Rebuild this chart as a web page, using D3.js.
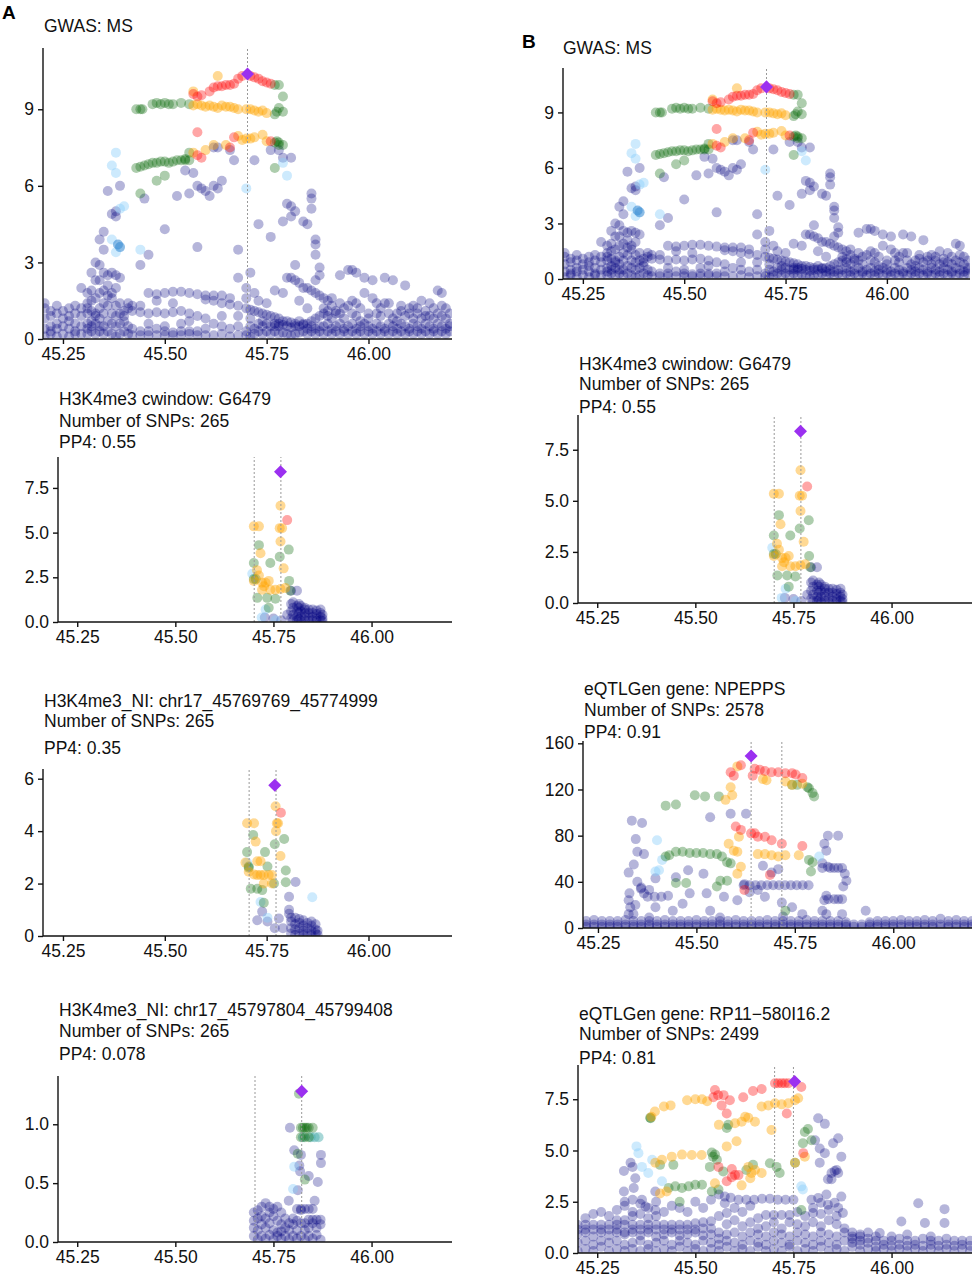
<!DOCTYPE html>
<html><head><meta charset="utf-8">
<script src="https://cdn.jsdelivr.net/npm/d3@7"></script>
<style>body{margin:0;background:#fff}svg{display:block}text{font-family:"Liberation Sans",Arial,sans-serif}</style>
</head><body>
<script>
// ---------- DATA (x in Mb : -log10 p values) ----------
const xTicks = [45.25, 45.5, 45.75, 46.0];

const gwasNavy = `45.205:0.1,0.4,0.8,1.2,1.4 45.22:0.2,0.5,0.9,1.1,0.3 45.235:0.1,0.6,1.0,0.4,1.3 45.25:0.2,0.5,0.8,1.1
45.265:0.1,0.4,0.9,1.2,0.7 45.28:0.3,0.6,1.0,1.3,0.2 45.295:0.2,0.5,0.9,1.2,2.0 45.31:0.2,0.6,1.0,1.4,1.8,1.2,0.4
45.32:0.3,0.7,1.1,1.5,1.9,2.6,0.5 45.33:0.2,0.6,1.0,1.6,2.3,3.0,0.9 45.34:0.3,0.8,1.2,1.8,2.3,2.9,3.9,0.5
45.35:0.2,0.5,1.0,1.4,1.9,2.6,3.5,4.2 45.36:0.3,0.7,1.3,1.7,2.1,2.5,5.8 45.37:0.2,0.6,1.0,1.8,1.6,2.6,4.9
45.38:0.1,0.5,0.9,1.3,2.0,2.5,5.0,4.8 45.39:0.2,0.6,1.0,1.4,2.4,6.0 45.40:0.3,0.7,1.1,0.9 45.41:0.2,0.5,1.2,1.4
45.42:0.15,0.4,1.1,1.3 45.44:0.15,0.3,1.05,1.3,2.9 45.45:5.5 45.46:0.15,0.3,1.0,1.8,3.3,0.6 45.48:0.15,0.4,1.05,1.75,1.5
45.50:0.15,0.3,1.0,1.8,4.3,0.5 45.52:0.15,0.25,1.05,1.85,1.4 45.53:5.6 45.54:0.15,0.3,1.1,1.85,0.6 45.55:6.6
45.56:0.2,0.3,1.0,1.8,5.7,0.7 45.57:6.5 45.58:0.15,0.3,1.75,3.6,0.9,6.0 45.59:5.9 45.60:0.15,0.4,1.55,1.7,0.8,5.8 45.61:5.6
45.62:0.15,0.6,1.5,1.7,6.0,7.5 45.63:5.9,7.5 45.64:0.2,0.5,1.4,0.9,1.7,6.2 45.66:0.1,0.4,1.35,1.6,7.4 45.67:7.0
45.68:0.15,0.5,1.3,2.4,3.5,0.9 45.70:0.15,0.3,1.2,2.0,1.6 45.71:0.1,0.5,1.15,2.6,0.8 45.72:0.2,0.4,1.1,1.8,7.0
45.73:0.3,0.6,1.05,4.5,1.5 45.74:0.2,0.5,1.0,0.7 45.75:0.3,0.6,0.95,1.4 45.76:0.2,0.5,0.9,4.0,7.4 45.77:0.3,0.6,0.85,1.9,0.5
45.78:0.2,0.5,0.8,0.6,7.4 45.79:0.25,0.55,0.7,1.8,4.6,7.1 45.80:0.2,0.5,0.7,5.3,2.4 45.81:0.15,0.45,0.65,2.4,4.8,5.2,7.1
45.82:0.2,0.5,0.6,2.9,2.3,5.0 45.83:0.25,0.5,0.7,2.2,1.5 45.84:0.3,0.55,0.6,2.0,4.6 45.85:0.2,0.4,0.6,2.0,4.5,1.2
45.86:0.3,0.5,0.7,1.9,5.7,5.5,5.1 45.87:0.2,0.4,0.8,1.8,3.9,3.7,3.3,2.3 45.88:0.3,0.5,0.9,1.7,2.8,2.5 45.89:0.2,0.5,1.0,1.6,1.2
45.90:0.3,0.6,1.1,1.5,0.9 45.91:0.2,0.4,0.8,1.3,1.6 45.92:0.3,0.5,1.1,1.0 45.93:0.2,0.6,1.0,2.5,1.4 45.94:0.3,0.4,0.8,1.2
45.95:0.2,0.5,1.3,2.7 45.96:0.3,0.6,1.5,2.7,1.0 45.97:0.2,0.4,0.9,2.6,1.4 45.98:0.3,0.5,1.2,0.7 45.99:0.2,0.6,1.8,2.4
46.00:0.3,0.5,1.0,0.8 46.01:0.2,0.4,1.6,2.3 46.02:0.3,0.6,1.0,1.4 46.03:0.2,0.5,0.9,1.2 46.04:0.3,0.4,1.4,2.4
46.05:0.2,0.6,1.0,1.4 46.06:0.3,0.5,0.8,2.3 46.07:0.2,0.4,1.0,0.7 46.08:0.3,0.6,1.1,1.3 46.09:0.2,0.5,0.9,2.1
46.10:0.3,0.4,1.2,1.0 46.11:0.2,0.6,0.8,1.3 46.12:0.3,0.5,1.0,1.2 46.13:0.2,0.4,1.5,0.8 46.14:0.3,0.6,0.9,1.1
46.15:0.2,0.5,0.9,1.4 46.16:0.3,0.4,0.8,1.2 46.17:0.2,0.6,1.0,1.9 46.18:0.3,0.5,0.9,1.8,1.3 46.19:0.2,0.4,0.8,1.2 46.20:0.3,0.6,1.0,0.5`;
const gwasGreen = `45.43:9.0,6.7 45.44:9.0,6.75,5.7 45.445:9.0 45.45:6.8 45.46:6.85 45.47:9.2,6.9 45.48:9.25,6.9,6.2 45.49:9.2,6.95
45.50:9.25,6.95,6.4 45.51:9.2,6.9 45.52:9.2,6.95 45.53:7.0 45.54:9.25,7.0 45.55:7.0,7.05 45.56:9.2,7.0,7.3
45.77:9.95,8.8,7.7,6.7 45.775:7.75,8.9 45.78:9.05,7.7,7.6,9.95 45.79:9.5,8.9,7.6`;
const gwasOrange = `45.57:9.15,9.7,7.3 45.58:9.2 45.59:9.15 45.60:9.1,7.4 45.61:9.15 45.62:9.1,7.6 45.63:9.05,10.3 45.64:9.15
45.65:9.1,7.6 45.66:9.1 45.67:9.05 45.68:9.0,7.95 45.69:7.8 45.70:9.0,7.85 45.71:9.0,7.85 45.72:8.95,7.9 45.73:8.9
45.74:8.95,8.0 45.75:8.85,7.75`;
const gwasRed = `45.57:9.6 45.58:9.5,8.1,7.2 45.59:9.55,7.1 45.61:9.7 45.62:9.85 45.63:9.9 45.64:9.9 45.65:9.95 45.66:9.95,7.5
45.67:10.0,7.9 45.68:10.2 45.69:10.3 45.71:10.3 45.72:10.25 45.73:10.2 45.74:10.1 45.75:10.05 45.76:10.0,7.75`;
const gwasLight = `45.37:6.8,3.9 45.38:7.3,6.5,3.4 45.39:5.1 45.40:5.2 45.44:3.5 45.79:6.9 45.80:6.4 45.70:5.9`;
const gwasBlue = `45.39:3.6 45.385:3.7`;
const gwasLead = [45.703, 10.38];

const h3aNavy = `45.795:0.2,0.6,1.0,1.75 45.80:0.1,0.4,0.8,1.1 45.81:0.1,0.3,0.6,0.9,1.75 45.815:0.15,0.5,0.8,1.0
45.82:0.05,0.3,0.6,0.9 45.83:0.1,0.3,0.5,0.7,0.8 45.84:0.05,0.25,0.5,0.7 45.85:0.1,0.3,0.5,0.7 45.86:0.05,0.2,0.45,0.65
45.87:0.1,0.3,0.5,0.7 45.875:0.05,0.2,0.4 45.728:0.25 45.75:0.2 45.77:0.1 45.785:0.4`;
const h3aGreen = `45.713:4.3 45.70:3.3,2.4 45.742:3.3 45.766:3.65 45.789:4.05 45.79:2.3 45.705:2.4 45.709:1.35 45.734:1.35
45.755:1.3 45.738:0.8 45.793:1.75`;
const h3aOrange = `45.70:5.35,2.3 45.713:5.35,2.6 45.768:6.5,4.5,1.85 45.766:5.25 45.772:5.25 45.776:3.0 45.717:3.85 45.708:2.9
45.721:2.2,1.8 45.73:2.2 45.738:2.3 45.726:2.0 45.742:1.8 45.755:1.8 45.78:1.9`;
const h3aRed = `45.785:5.7`;
const h3aLight = `45.696:2.7 45.73:0.7 45.755:0.1 45.72:0.25`;
const h3aLead = [45.768, 8.4];

const h3bNavy = `45.821:2.06 45.805:1.5,1.0,0.85 45.739:0.93 45.727:0.6 45.752:0.55 45.78:0.67 45.77:0.3 45.79:0.3
45.81:0.1,0.3,0.55,0.7 45.82:0.05,0.25,0.45,0.7 45.83:0.1,0.3,0.5,0.65 45.84:0.05,0.2,0.4,0.6 45.85:0.1,0.3,0.5
45.86:0.05,0.2,0.4,0.55 45.87:0.1,0.25,0.45 45.875:0.05,0.2`;
const h3bGreen = `45.717:3.85 45.702:3.2 45.746:3.2 45.77:3.5 45.793:3.7 45.706:2.65,2.6 45.752:2.65 45.797:2.5,2.05
45.711:1.8 45.727:1.8 45.739:1.75 45.743:1.27 45.768:2.0`;
const h3bOrange = `45.702:4.3 45.719:4.3,2.35 45.772:4.95 45.775:4.3 45.778:4.3 45.773:4.0 45.784:3.05 45.723:3.6
45.727:2.85,2.33 45.735:2.85,2.33 45.743:2.33,2.0 45.755:2.33 45.763:2.33,2.0 45.706:2.45 45.698:2.8`;
const h3bRed = `45.785:4.7`;
const h3bLight = `45.702:2.8 45.735:1.3 45.862:1.48 45.752:0.7`;
const h3bLead = [45.770, 5.75];

const h3cNavy = `45.792:0.97 45.803:0.78 45.82:0.74 45.871:0.74,0.67 45.816:0.65 45.818:0.6 45.84:0.56 45.863:0.51
45.812:0.44 45.789:0.35 45.855:0.35 45.70:0.05,0.12,0.18,0.25 45.71:0.02,0.1,0.2,0.27 45.72:0.05,0.15,0.22,0.3
45.73:0.03,0.12,0.2,0.33 45.74:0.06,0.16,0.25,0.3 45.75:0.02,0.1,0.22,0.28 45.76:0.05,0.08,0.18,0.3 45.77:0.03,0.09,0.15,0.25
45.78:0.05,0.12,0.2 45.79:0.02,0.1,0.16 45.80:0.05,0.15,0.2 45.81:0.03,0.1,0.18,0.28 45.82:0.05,0.16,0.28,0.27
45.83:0.02,0.16,0.28,0.1 45.84:0.05,0.19,0.28,0.12 45.85:0.03,0.19,0.28,0.16 45.86:0.06,0.19,0.12 45.87:0.02,0.19,0.15`;
const h3cGreen = `45.82:0.97,0.89 45.825:0.97 45.83:0.97,0.89 45.835:0.97 45.84:0.97,0.89 45.85:0.97 45.812:0.75 45.83:0.53 45.815:1.26`;
const h3cTeal = `45.825:0.89 45.845:0.89 45.855:0.89 45.865:0.89`;
const h3cLight = `45.803:0.64 45.80:0.45`;
const h3cLead = [45.822, 1.28];

const npNavy = `45.336:93 45.362:91 45.346:77 45.35:66,40 45.367:64,30 45.341:55 45.328:48,24,12 45.359:34 45.376:27 45.394:27
45.411:27 45.428:28 45.332:18 45.34:12 45.36:35 45.38:33 45.33:30 45.345:20
45.834:80,53 45.86:80 45.825:73,24 45.83:67,28,12 45.82:56,52,15 45.84:52 45.85:52,25 45.86:52,25 45.87:52,25,12 45.835:25
45.877:47 45.881:41 45.873:36 45.93:15
45.535:96,15 45.587:99 45.626:99 45.669:54 45.691:48 45.708:51 45.622:38 45.635:31 45.518:47 45.479:50 45.448:44 45.396:43
45.483:30 45.526:30 45.57:27 45.604:24 45.656:33 45.674:27 45.717:22 45.743:18 45.769:12 45.44:15 45.396:18 45.465:21
45.62:37 45.635:37 45.65:37 45.665:37 45.68:37 45.695:37 45.71:37 45.725:37 45.74:37 45.755:37 45.77:37 45.785:37
45.20:1,3,6 45.22:1,3,6 45.24:1,3,7 45.26:1,3,6 45.28:1,3,6 45.30:1,3,6 45.32:1,3,7 45.34:1,3,6 45.36:1,3,6 45.38:1,3,6,9
45.40:1,3,6 45.42:1,3,7 45.44:1,3,6 45.46:1,3,6 45.48:1,3,6 45.50:1,3,7 45.52:1,3,6 45.54:1,3,6 45.56:1,3,6,9 45.58:1,3,6
45.60:1,3,7 45.62:1,3,6 45.64:1,3,6 45.66:1,3,6 45.68:1,3,7 45.70:1,3,6 45.72:1,3,6,10 45.74:1,3,6 45.76:1,3,6 45.78:1,3,7
45.80:1,3,6 45.82:1,3,6 45.84:1,3,6 45.86:1,3,6 45.88:1,3,5 45.90:1,3 45.92:1,3 45.94:1,3,5 45.96:1,3,6 45.98:1,3,6
46.00:1,3,6 46.02:1,3,7 46.04:1,3,6 46.06:1,3,6 46.08:1,3,7 46.10:1,3,6 46.12:1,3,8 46.14:1,3,6 46.16:1,3,7 46.18:1,3,6 46.20:1,3,6`;
const npGreen = `45.422:106,62 45.448:107,66,39 45.496:115 45.522:114 45.557:114 45.743:124 45.756:124 45.786:121,59 45.795:117,57
45.799:114 45.782:122 45.431:63 45.465:66 45.483:65 45.5:65 45.517:65 45.535:64 45.552:64,36 45.565:62 45.578:57,41
45.587:56 45.791:49 45.474:39 45.561:41 45.726:15`;
const npOrange = `45.604:140,66,47 45.587:122 45.591:115 45.574:111 45.608:79 45.582:73 45.595:67 45.656:64 45.674:64 45.691:63
45.708:62 45.726:63,127 45.76:63 45.678:128 45.669:129 45.743:124 45.769:125 45.613:53`;
const npRed = `45.595:132 45.587:135 45.613:141,85 45.648:138,82 45.661:137 45.674:136,79 45.691:135,76 45.708:135 45.726:134
45.743:134 45.752:133 45.769:130,71 45.643:132 45.6:88 45.639:82 45.656:79 45.717:73 45.687:46 45.622:33`;
const npLight = `45.4:76 45.396:49 45.405:50 45.413:59 45.812:62`;
const npLead = [45.639, 149];

const rpNavy = `45.318:4.0,3.0 45.335:4.4 45.34:4.2 45.347:3.65 45.343:3.17 45.398:3.0,2.1 45.364:2.6 45.373:2.27
45.813:6.57,2.68 45.83:6.3,4.87 45.805:5.5 45.817:5.1,4.4 45.851:5.35 45.864:5.6,3.9,2.2 45.872:4.7,2.75 45.847:3.9,3.6
45.86:4.05 45.855:4.0,2.45 45.838:3.6,2.35 45.834:2.85 45.82:2.45 45.876:1.95 45.8:1.95 45.796:2.6
45.56:2.85 45.575:2.75,2.43 45.59:2.7 45.61:2.6 45.63:2.6 45.65:2.6 45.67:2.65 45.69:2.65 45.71:2.6 45.73:2.6 45.75:2.6
46.068:2.43 46.135:2.14,1.46 46.085:1.46 46.025:1.54 45.97:0.97
45.20:0.1,0.5,0.9,1.38,1.15 45.22:0.2,0.6,1.0,1.38,1.15,1.7 45.24:0.1,0.4,0.8,1.38,1.15,1.9 45.26:0.3,0.6,1.0,1.38,1.15,2.0
45.28:0.1,0.5,0.85,1.38,1.15,1.8 45.30:0.2,0.6,1.0,1.38,1.15,1.6,2.1 45.32:0.1,0.4,0.9,1.38,1.6,2.3,2.5,1.0
45.34:0.2,0.5,1.0,1.38,1.15,2.0,2.6,1.8 45.36:0.1,0.6,0.85,1.38,1.15,2.4,1.9 45.38:0.2,0.4,1.0,1.38,1.15,2.2,1.7
45.40:0.1,0.5,0.8,1.38,1.15,2.5,1.8 45.42:0.2,0.6,0.9,1.38,1.15,2.0 45.44:0.1,0.4,1.0,1.38,1.15,2.3
45.46:0.3,0.6,0.85,1.38,1.15,2.2 45.48:0.1,0.5,0.9,1.38,1.15,2.0 45.50:0.2,0.4,1.0,1.45,1.15,2.5 45.52:0.1,0.6,0.85,1.5,1.2,2.2
45.54:0.2,0.5,0.9,1.55,1.2,2.6 45.56:0.1,0.4,1.0,1.8,0.7 45.58:0.3,0.6,0.9,1.95,1.4 45.60:0.1,0.5,1.0,1.6,2.2
45.62:0.2,0.4,0.8,1.3,2.0 45.64:0.1,0.6,1.0,1.5,2.3 45.66:0.3,0.5,0.9,1.2,1.7 45.68:0.1,0.4,0.8,1.85,1.3
45.70:0.2,0.6,1.0,1.85,1.5 45.72:0.1,0.5,0.9,1.85,1.2 45.74:0.3,0.4,0.8,1.85,1.5 45.76:0.1,0.6,1.0,1.4,2.0
45.78:0.2,0.5,0.9,1.3,1.8 45.80:0.1,0.4,0.8,1.5,2.2 45.82:0.3,0.6,1.0,1.3,1.9 45.84:0.1,0.5,0.9,1.6,2.1
45.86:0.2,0.4,0.8,1.4,1.8 45.88:0.1,0.6,1.0,1.2 45.90:0.3,0.5,0.8,1.0,0.7 45.92:0.1,0.4,0.6,0.9,0.8 45.94:0.2,0.5,0.7,1.0
45.96:0.1,0.3,0.6,0.8 45.98:0.2,0.4,0.6 46.00:0.1,0.35,0.6,0.8 46.02:0.2,0.4,0.7 46.04:0.1,0.35,0.6,0.9 46.06:0.2,0.4,0.6
46.08:0.1,0.35,0.7 46.10:0.2,0.4,0.6,0.8 46.12:0.1,0.35,0.6 46.14:0.2,0.4,0.7 46.16:0.1,0.35,0.6 46.18:0.2,0.4,0.6 46.20:0.1,0.35,0.6`;
const rpGreen = `45.386:6.57 45.385:6.6 45.584:6.25 45.58:6.1 45.779:5.9 45.787:6.05 45.774:5.35 45.796:5.5 45.55:4.8 45.542:4.9
45.555:4.55 45.545:4.7 45.41:4.3 45.444:4.3 45.537:4.2 45.571:3.98 45.63:4.05 45.647:4.3 45.69:4.38 45.707:4.2 45.715:3.9
45.754:4.4 45.432:3.17 45.449:3.25 45.466:3.17 45.483:3.25 45.5:3.33 45.517:3.33 45.542:3.0 45.559:3.1 45.77:2.1 45.46:2.5`;
const rpOrange = `45.388:6.65 45.397:6.9 45.42:7.15 45.437:7.2 45.479:7.45 45.5:7.5 45.517:7.5 45.53:7.4 45.669:7.15 45.686:7.2
45.703:7.3 45.72:7.25 45.737:7.3 45.754:7.45 45.762:7.55 45.627:6.65 45.635:6.6,4.2 45.618:6.4,3.3 45.652:6.4,4.05 45.601:6.33
45.56:6.25 45.694:6.0 45.605:5.45 45.398:4.4 45.415:4.55 45.44:4.7 45.466:4.8 45.491:4.78 45.516:4.78 45.58:5.2 45.669:3.9
45.643:3.9 45.427:3.0 45.41:2.9 45.64:3.65 45.55:3.4 45.754:4.4 45.779:4.7`;
const rpRed = `45.703:8.28 45.711:8.28 45.72:8.28 45.728:8.28 45.737:8.28 45.77:8.1 45.55:7.95 45.558:7.7 45.546:7.6 45.572:7.7
45.567:7.2 45.588:7.45 45.622:7.6 45.647:7.9 45.669:8.0 45.58:6.8 45.733:6.8 45.775:4.87 45.559:4.2 45.593:4.1,3.7
45.601:3.8 45.61:3.8 45.58:3.5`;
const rpLight = `45.35:5.2 45.355:4.87 45.364:4.2 45.39:4.55 45.415:3.5 45.774:3.1 45.77:3.25 45.38:3.9`;
const rpLead = [45.753, 8.36];

// ---------- RENDER ----------
function parse(s){ if(!s) return []; return s.trim().split(/\s+/).flatMap(t=>{const [x,ys]=t.split(':');return ys.split(',').map(y=>[+x,+y]);}); }
const COL = {navy:['#000080',0.29], light:['#87cefa',0.42], blue:['#3d8fd6',0.6], teal:['#4fb0b0',0.5], green:['#006400',0.32], orange:['#ffa500',0.42], red:['#ff0000',0.35]};

const datasets = {
  gwas:{navy:gwasNavy,light:gwasLight,blue:gwasBlue,green:gwasGreen,orange:gwasOrange,red:gwasRed,lead:gwasLead},
  h3a:{navy:h3aNavy,light:h3aLight,green:h3aGreen,orange:h3aOrange,red:h3aRed,lead:h3aLead},
  h3b:{navy:h3bNavy,light:h3bLight,green:h3bGreen,orange:h3bOrange,red:h3bRed,lead:h3bLead},
  h3c:{navy:h3cNavy,light:h3cLight,teal:h3cTeal,green:h3cGreen,lead:h3cLead},
  np:{navy:npNavy,light:npLight,green:npGreen,orange:npOrange,red:npRed,lead:npLead},
  rp:{navy:rpNavy,light:rpLight,green:rpGreen,orange:rpOrange,red:rpRed,lead:rpLead}
};

const panels = [
 {d:'gwas',L:43,R:452,y0:339,top:48,ymax:11.4,yt:[0,3,6,9],f:'d',vl:[45.703],tx:44,titles:[['GWAS: MS',27]]},
 {d:'h3a',L:58,R:452,y0:622,top:457,ymax:9.23,yt:[0,2.5,5,7.5],f:'.1f',vl:[45.701,45.769],tx:59,titles:[['H3K4me3 cwindow: G6479',400],['Number of SNPs: 265',422],['PP4: 0.55',443]]},
 {d:'h3b',L:43,R:452,y0:936,top:769,ymax:6.37,yt:[0,2,4,6],f:'d',vl:[45.707,45.773],tx:44,titles:[['H3K4me3_NI: chr17_45769769_45774999',702],['Number of SNPs: 265',722],['PP4: 0.35',749]]},
 {d:'h3c',L:58,R:452,y0:1242,top:1076,ymax:1.41,yt:[0,0.5,1.0],f:'.1f',vl:[45.703,45.822],tx:59,titles:[['H3K4me3_NI: chr17_45797804_45799408',1011],['Number of SNPs: 265',1032],['PP4: 0.078',1055]]},
 {d:'gwas',L:563,R:970,y0:279,top:68,ymax:11.4,yt:[0,3,6,9],f:'d',vl:[45.703],tx:563,titles:[['GWAS: MS',49]]},
 {d:'h3a',L:578,R:972,y0:603,top:415,ymax:9.2,yt:[0,2.5,5,7.5],f:'.1f',vl:[45.701,45.769],tx:579,titles:[['H3K4me3 cwindow: G6479',365],['Number of SNPs: 265',385],['PP4: 0.55',408]]},
 {d:'np',L:583,R:972,y0:928,top:741,ymax:162,yt:[0,40,80,120,160],f:'d',vl:[45.639,45.717],tx:584,titles:[['eQTLGen gene: NPEPPS',690],['Number of SNPs: 2578',711],['PP4: 0.91',733]],xd:[45.212,46.2]},
 {d:'rp',L:578,R:972,y0:1253,top:1065,ymax:9.17,yt:[0,2.5,5,7.5],f:'.1f',vl:[45.702,45.75],tx:579,titles:[['eQTLGen gene: RP11\u2212580I16.2',1015],['Number of SNPs: 2499',1035],['PP4: 0.81',1059]]}
];

const svg = d3.select('body').append('svg').attr('width',975).attr('height',1280);
svg.append('text').attr('x',2).attr('y',19).attr('font-size',19).attr('font-weight','bold').text('A');
svg.append('text').attr('x',522).attr('y',48).attr('font-size',19).attr('font-weight','bold').text('B');

panels.forEach((p,i)=>{
  const ds = datasets[p.d];
  const x = d3.scaleLinear().domain(p.xd||[45.201,46.205]).range([p.L,p.R]);
  const y = d3.scaleLinear().domain([0,p.ymax]).range([p.y0,p.top]);
  const g = svg.append('g');
  const cp = 'clip'+i;
  g.append('clipPath').attr('id',cp).append('rect').attr('x',p.L).attr('y',p.top-10).attr('width',p.R-p.L).attr('height',p.y0-p.top+10);
  const pts = g.append('g').attr('clip-path',`url(#${cp})`);
  ['navy','light','blue','teal','green','orange','red'].forEach(k=>{
    if(!ds[k]) return;
    pts.selectAll(null).data(parse(ds[k])).enter().append('circle')
      .attr('cx',d=>x(d[0])).attr('cy',d=>y(d[1])).attr('r',5)
      .attr('fill',COL[k][0]).attr('fill-opacity',COL[k][1]);
  });
  p.vl.forEach(v=>g.append('line').attr('x1',x(v)).attr('x2',x(v)).attr('y1',p.y0).attr('y2',p.top)
     .attr('stroke','#999').attr('stroke-width',1).attr('stroke-dasharray','2,2'));
  g.append('path').attr('d',d3.symbol(d3.symbolSquare,85)()).attr('transform',`translate(${x(ds.lead[0])},${y(ds.lead[1])}) rotate(45)`)
    .attr('fill','#9b30f0');
  const xa = g.append('g').attr('transform',`translate(0,${p.y0})`).call(d3.axisBottom(x).tickValues(xTicks).tickFormat(d3.format('.2f')).tickSizeOuter(0).tickSize(5).tickPadding(4));
  const ya = g.append('g').attr('transform',`translate(${p.L},0)`).call(d3.axisLeft(y).tickValues(p.yt).tickFormat(d3.format(p.f)).tickSizeOuter(0).tickSize(5).tickPadding(4));
  [xa,ya].forEach(a=>{a.selectAll('text').attr('font-size',17.5).attr('fill','#111').style('font-family','Liberation Sans, Arial');
    a.selectAll('line,path').attr('stroke','#111').attr('stroke-width',1.4);});
  xa.select('.domain').attr('d',`M${p.L},0H${p.R}`);
  ya.select('.domain').attr('d',`M0,${p.y0}V${p.top}`);
  p.titles.forEach(t=>g.append('text').attr('x',p.tx).attr('y',t[1]).attr('dominant-baseline','middle').attr('font-size',17.5).attr('fill','#111').text(t[0]));
});
</script>
</body></html>
